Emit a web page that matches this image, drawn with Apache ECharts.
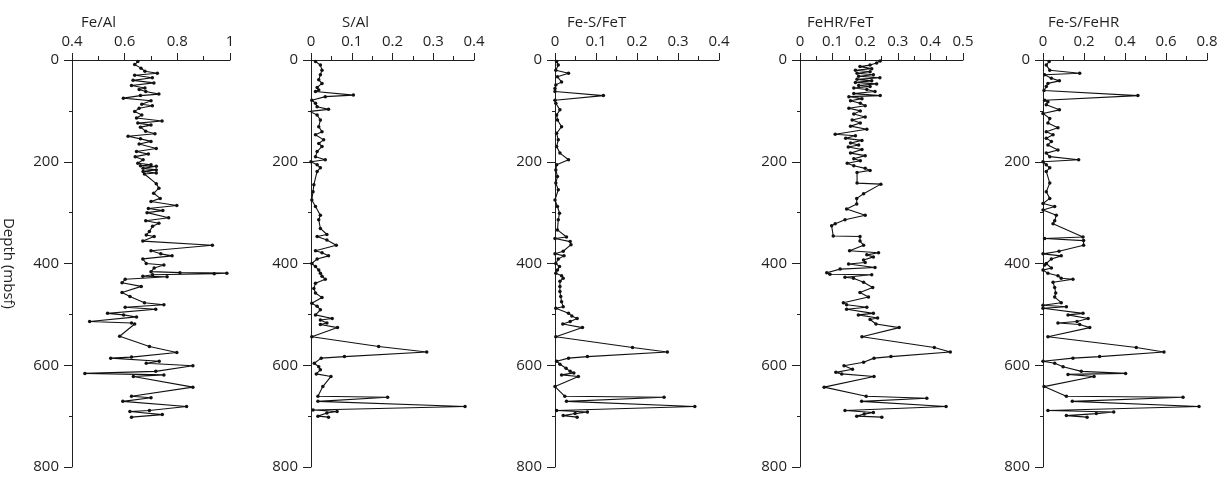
<!DOCTYPE html>
<html>
<head>
<meta charset="utf-8">
<script src="https://cdn.jsdelivr.net/npm/echarts@6/dist/echarts.min.js"></script>
<style>
  html, body { margin: 0; padding: 0; background: #fff; }
  #chart { width: 1227px; height: 477px; }
</style>
</head>
<body>
<div id="chart"></div>
<script>
// Geochemical depth profiles: each point is [ratio, depth (mbsf)]
const panelTitles = ['Fe/Al', 'S/Al', 'Fe-S/FeT', 'FeHR/FeT', 'Fe-S/FeHR'];
const depthTicks = [0, 200, 400, 600, 800];

const feAl = [
  [0.650,3],[0.638,9],[0.662,16],[0.677,22],[0.724,26],[0.638,30],[0.705,35],[0.632,40],[0.711,45],[0.626,50],
  [0.677,55],[0.655,58],[0.680,62],[0.730,67],[0.660,70],[0.595,75],[0.700,80],[0.665,87],[0.705,90],[0.655,95],
  [0.638,101],[0.665,108],[0.645,114],[0.742,120],[0.650,124],[0.700,128],[0.660,132],[0.680,140],[0.715,145],
  [0.613,150],[0.660,155],[0.700,160],[0.655,165],[0.720,174],[0.645,180],[0.690,185],[0.640,190],[0.670,196],
  [0.650,203],[0.700,206],[0.660,208],[0.720,209],[0.670,213],[0.720,216],[0.670,219],[0.720,222],[0.675,224],
  [0.720,243],[0.730,252],[0.710,262],[0.735,272],[0.700,278],[0.798,286],[0.690,292],[0.745,296],[0.685,300],
  [0.767,310],[0.680,316],[0.730,321],[0.706,327],[0.694,337],[0.682,344],[0.712,347],[0.669,356],[0.933,364],
  [0.700,375],[0.737,381],[0.780,385],[0.669,391],[0.682,400],[0.749,403],[0.712,409],[0.700,416],[0.810,418],
  [0.988,419],[0.940,420],[0.706,422],[0.669,425],[0.761,426],[0.602,431],[0.590,438],[0.663,445],[0.590,457],
  [0.620,465],[0.675,477],[0.749,481],[0.602,486],[0.718,490],[0.535,498],[0.596,501],[0.645,505],[0.467,514],
  [0.626,517],[0.638,519],[0.581,543],[0.694,563],[0.798,575],[0.626,584],[0.547,586],[0.731,592],[0.682,596],
  [0.859,601],[0.718,612],[0.449,616],[0.749,619],[0.633,622],[0.859,643],[0.626,661],[0.700,664],[0.593,671],
  [0.835,681],[0.694,689],[0.620,691],[0.743,697],[0.626,702]
];

const sAl = [
  [0.011,3],[0.023,10],[0.027,20],[0.023,29],[0.019,39],[0.027,46],[0.015,54],[0.019,59],[0.011,62],[0.104,69],
  [0.035,72],[0.002,79],[0.011,85],[0.015,92],[0.043,97],[-0.003,101],[0.015,108],[0.023,118],[0.019,131],[0.027,141],
  [0.011,147],[0.031,157],[0.019,164],[0.027,170],[0.015,180],[0.011,190],[0.035,196],[0.0,200],[0.015,206],[0.023,212],
  [0.015,219],[0.007,245],[0.005,259],[0.002,275],[0.011,288],[0.023,305],[0.019,314],[0.023,331],[0.039,343],
  [0.015,347],[0.039,354],[0.062,364],[0.011,375],[0.027,379],[0.043,385],[0.015,391],[0.002,400],[0.011,406],
  [0.019,413],[0.023,419],[0.027,425],[0.035,431],[0.011,439],[0.007,449],[0.011,458],[0.027,467],[0.002,478],
  [0.015,484],[0.023,491],[0.011,501],[0.052,508],[0.023,511],[0.039,517],[0.023,520],[0.065,526],[0.002,544],
  [0.166,563],[0.284,574],[0.082,583],[0.025,586],[0.008,596],[0.019,603],[0.023,609],[0.013,617],[0.049,622],
  [0.029,642],[0.017,661],[0.188,663],[0.017,671],[0.378,681],[0.005,688],[0.064,691],[0.039,694],[0.017,700],[0.043,702]
];

const feSFeT = [
  [0.004,3],[0.008,10],[0.002,20],[0.033,26],[0.006,33],[0.016,43],[0.002,49],[0.0,56],[0.0,62],[0.118,70],
  [0.0,79],[0.002,85],[0.012,98],[0.004,108],[0.006,118],[0.016,131],[0.004,144],[0.008,157],[0.004,170],[0.012,183],
  [0.033,196],[0.004,206],[0.002,216],[0.006,229],[0.002,242],[0.008,255],[0.0,275],[0.006,288],[0.011,301],[0.008,314],
  [0.006,334],[0.028,348],[0.0,351],[0.037,357],[0.039,363],[0.020,376],[0.0,381],[0.022,385],[0.008,391],
  [0.002,400],[0.011,406],[0.006,413],[0.002,419],[0.016,424],[0.020,429],[0.012,435],[0.012,445],[0.012,455],
  [0.014,465],[0.016,475],[0.020,485],[0.002,488],[0.033,498],[0.041,503],[0.054,508],[0.037,514],[0.019,519],
  [0.067,526],[0.002,544],[0.189,565],[0.274,574],[0.079,583],[0.033,586],[0.004,592],[0.012,598],[0.027,606],
  [0.037,612],[0.046,615],[0.016,619],[0.057,622],[0.0,642],[0.024,661],[0.266,663],[0.028,671],[0.341,681],
  [0.004,689],[0.079,692],[0.049,695],[0.020,699],[0.054,702]
];

const feHRFeT = [
  [0.246,2],[0.235,6],[0.215,10],[0.184,13],[0.220,17],[0.170,20],[0.215,23],[0.175,26],[0.225,29],[0.180,32],
  [0.245,35],[0.175,38],[0.220,41],[0.170,44],[0.235,47],[0.180,50],[0.215,52],[0.165,55],[0.205,58],[0.230,62],
  [0.165,66],[0.246,70],[0.150,72],[0.190,76],[0.155,80],[0.185,85],[0.200,90],[0.150,95],[0.185,100],[0.165,106],
  [0.200,112],[0.160,118],[0.185,124],[0.155,130],[0.205,136],[0.108,146],[0.170,149],[0.140,154],[0.190,158],
  [0.155,163],[0.180,167],[0.148,171],[0.190,176],[0.155,183],[0.200,188],[0.165,194],[0.185,198],[0.145,203],
  [0.165,208],[0.200,213],[0.215,217],[0.175,221],[0.175,242],[0.248,244],[0.195,263],[0.174,272],[0.174,283],
  [0.143,293],[0.200,305],[0.138,314],[0.108,322],[0.097,326],[0.102,346],[0.184,347],[0.184,356],[0.195,364],
  [0.152,375],[0.241,379],[0.205,383],[0.225,387],[0.195,393],[0.200,398],[0.149,401],[0.230,408],[0.123,411],
  [0.082,418],[0.092,421],[0.220,422],[0.138,427],[0.164,429],[0.195,437],[0.223,447],[0.184,457],[0.210,466],
  [0.133,477],[0.143,481],[0.205,486],[0.143,490],[0.225,498],[0.179,501],[0.238,507],[0.215,510],[0.233,519],
  [0.304,526],[0.190,544],[0.412,565],[0.461,574],[0.279,583],[0.227,586],[0.195,594],[0.135,601],[0.161,608],
  [0.110,614],[0.128,617],[0.227,622],[0.074,643],[0.203,661],[0.389,665],[0.189,671],[0.448,681],[0.138,689],
  [0.225,693],[0.197,696],[0.174,700],[0.251,702]
];

const feSFeHR = [
  [0.030,3],[0.016,10],[0.033,20],[0.179,26],[0.008,29],[0.041,36],[0.080,41],[0.024,46],[0.016,52],[0.005,60],
  [0.463,70],[0.008,79],[0.024,82],[0.016,88],[0.080,98],[0.0,105],[0.033,115],[0.024,124],[0.073,133],[0.016,141],
  [0.049,147],[0.016,154],[0.041,160],[0.024,167],[0.073,177],[0.016,183],[0.033,190],[0.174,196],[0.0,200],
  [0.016,206],[0.033,212],[0.016,219],[0.033,242],[0.016,259],[0.033,272],[0.0,282],[0.057,288],[0.0,295],
  [0.065,305],[0.057,316],[0.049,322],[0.195,348],[0.008,351],[0.198,355],[0.198,364],[0.078,376],[0.0,381],
  [0.089,385],[0.041,391],[0.016,400],[0.008,403],[0.041,409],[0.0,413],[0.024,419],[0.073,424],[0.089,429],
  [0.146,431],[0.049,437],[0.057,447],[0.062,458],[0.057,466],[0.089,477],[0.0,482],[0.114,485],[0.0,488],
  [0.195,498],[0.122,501],[0.220,508],[0.166,514],[0.073,517],[0.179,520],[0.228,526],[0.024,544],[0.455,565],
  [0.590,574],[0.276,583],[0.146,586],[0.0,592],[0.057,596],[0.098,603],[0.187,612],[0.403,616],[0.122,618],
  [0.249,622],[0.005,642],[0.114,661],[0.683,663],[0.143,671],[0.761,681],[0.024,689],[0.345,692],[0.260,695],
  [0.114,699],[0.215,702]
];

const seriesData = [feAl, sAl, feSFeT, feHRFeT, feSFeHR];
// x-axis ranges and label steps for each panel
const xMin = [0.4, 0, 0, 0, 0];
const xMax = [1, 0.4, 0.4, 0.5, 0.8];
const xStep = [0.2, 0.1, 0.1, 0.1, 0.2];

// panel placement
const gridLeft = [67, 311, 555, 800, 1043];
const gridWidth = [163, 163, 164, 163, 164];
const titleLeft = [76, 337, 562, 802, 1043];

const FONT = '"Open Sans", "Liberation Sans", sans-serif';
const INK = '#231f20';

const chart = echarts.init(document.getElementById('chart'), null, { renderer: 'canvas' });

const grids = [], xAxes = [], yAxes = [], series = [], titles = [];
for (let i = 0; i < 5; i++) {
  grids.push({ left: gridLeft[i], width: gridWidth[i], top: 60, height: 407 });
  xAxes.push({
    type: 'value', gridIndex: i, position: 'top',
    min: xMin[i], max: xMax[i], interval: xStep[i],
    axisLine: { show: true, lineStyle: { color: INK, width: 1 } },
    axisTick: { show: true, inside: false, length: 7, lineStyle: { color: INK } },
    minorTick: { show: true, splitNumber: 2, length: 4, lineStyle: { color: INK } },
    splitLine: { show: false },
    axisLabel: { fontFamily: FONT, fontSize: 15, color: INK, margin: 11 }
  });
  yAxes.push({
    type: 'value', gridIndex: i, inverse: true,
    min: 0, max: 800, interval: 200,
    axisLine: { show: true, onZero: false, lineStyle: { color: INK, width: 1 } },
    axisTick: { show: true, length: 8, lineStyle: { color: INK } },
    minorTick: { show: true, splitNumber: 2, length: 3, lineStyle: { color: INK } },
    splitLine: { show: false },
    axisLabel: { fontFamily: FONT, fontSize: 15, color: INK, margin: 13 },
    name: i === 0 ? 'Depth (mbsf)' : '',
    nameLocation: 'middle', nameRotate: -90, nameGap: 56,
    nameTextStyle: { fontFamily: FONT, fontSize: 15, color: INK }
  });
  series.push({
    type: 'line', xAxisIndex: i, yAxisIndex: i,
    data: seriesData[i],
    symbol: 'circle', symbolSize: 3.5,
    itemStyle: { color: '#111' },
    lineStyle: { color: '#111', width: 1.1 },
    animation: false
  });
  titles.push({
    text: panelTitles[i], left: titleLeft[i], top: 10,
    textStyle: { fontFamily: FONT, fontSize: 15, fontWeight: 'normal', color: INK }
  });
}

chart.setOption({
  animation: false,
  backgroundColor: '#fff',
  title: titles,
  grid: grids,
  xAxis: xAxes,
  yAxis: yAxes,
  series: series
});
</script>
</body>
</html>
